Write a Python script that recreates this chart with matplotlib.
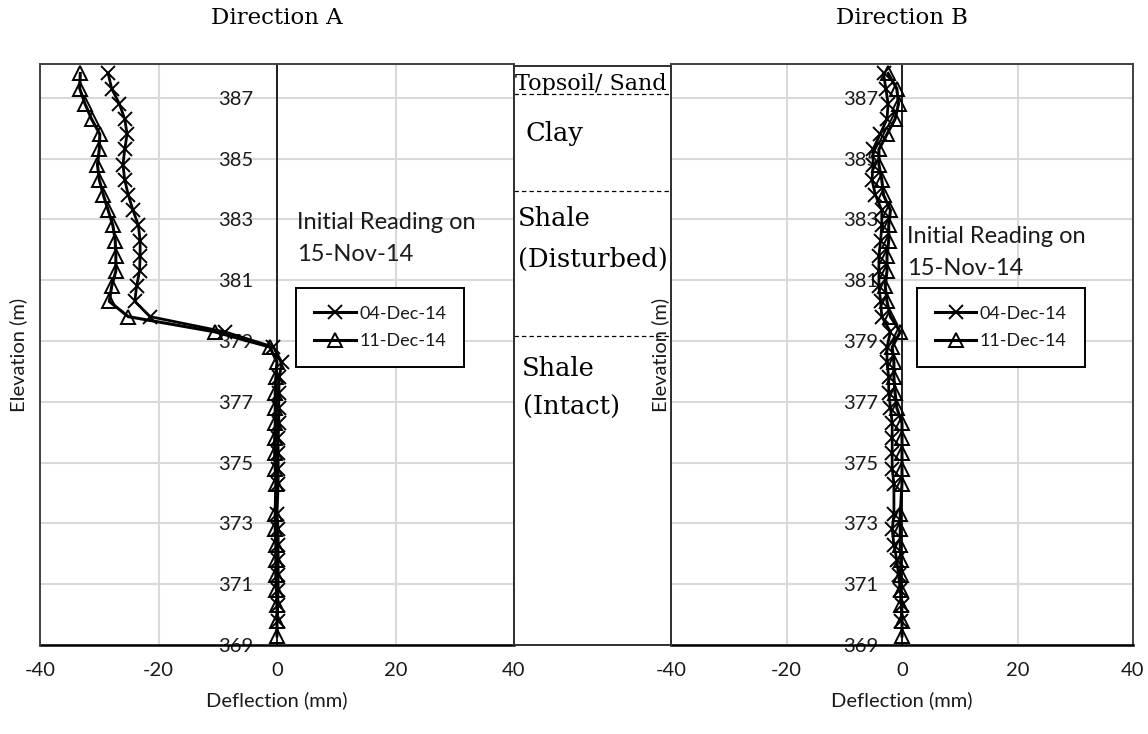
import matplotlib
matplotlib.use("Agg")
import matplotlib.pyplot as plt
from matplotlib.lines import Line2D

plt.rcParams["axes.unicode_minus"] = False

# Inclinometer readings: elevation of each reading (m)
elevation = [387.8, 387.3, 386.8, 386.3, 385.8, 385.3, 384.8, 384.3, 383.8,
             383.3, 382.8, 382.3, 381.8, 381.3, 380.8, 380.3, 379.8, 379.3,
             378.8, 378.3, 377.8, 377.3, 376.8, 376.3, 375.8, 375.3, 374.8,
             374.3, 373.3, 372.8, 372.3, 371.8, 371.3, 370.8, 370.3, 369.8,
             369.3]

# Direction A cumulative deflection (mm)
a_dec04 = [-28.5, -27.9, -26.6, -25.7, -25.3, -25.7, -26.0, -25.7, -25.1,
           -24.3, -23.4, -23.1, -23.1, -23.2, -23.7, -24.0, -21.4, -8.8,
           -0.6, 0.8, 0.4, 0.3, 0.3, 0.3, 0.2, 0.2, 0.2,
           0.2, 0.0, 0.2, 0.2, 0.2, 0.2, 0.2, 0.1, 0.1]
a_dec11 = [-33.2, -33.3, -32.4, -31.3, -29.9, -30.0, -30.3, -30.0, -29.3,
           -28.5, -27.7, -27.3, -27.2, -27.2, -27.9, -28.3, -25.1, -10.5,
           -1.2, 0.0, -0.2, -0.3, -0.3, -0.3, -0.4, -0.4, -0.3,
           -0.2, -0.3, -0.3, -0.2, -0.2, -0.2, -0.1, 0.0, 0.0, 0.0]

# Direction B cumulative deflection (mm)
b_dec04 = [-3.2, -2.8, -2.4, -2.6, -3.8, -5.0, -5.0, -5.2, -4.6,
           -3.5, -3.5, -3.7, -4.0, -4.0, -4.0, -3.7, -3.5, -2.0,
           -2.6, -2.6, -2.3, -2.3, -2.0, -1.7, -1.7, -1.7, -1.7,
           -1.4, -1.4, -1.7, -1.4, -0.9, -0.6, -0.3, 0.0, -0.1]
b_dec11 = [-2.4, -0.9, -0.6, -1.2, -2.6, -4.0, -4.0, -3.5, -3.2,
           -2.0, -2.3, -2.3, -2.6, -2.6, -2.9, -2.6, -2.0, -0.3,
           -1.7, -1.4, -1.4, -1.2, -0.9, 0.0, 0.0, 0.0, 0.0,
           0.0, -0.3, -0.3, -0.3, -0.2, -0.2, -0.2, -0.1, 0.0, 0.0]

series_labels = ["04-Dec-14", "11-Dec-14"]
x_ticks = [-40, -20, 0, 20, 40]
y_ticks = [369, 371, 373, 375, 377, 379, 381, 383, 385, 387]
y_range = (369, 388.11)

# Soil profile
layer_bounds = [387.2, 384.0, 379.2]
layer_texts = [("Topsoil/ Sand", 0.006, 387.52, 16.0),
               ("Clay", 0.076, 385.88, 18.5),
               ("Shale", 0.025, 383.08, 18.5),
               ("(Disturbed)", 0.025, 381.73, 18.5),
               ("Shale", 0.05, 378.11, 18.5),
               ("(Intact)", 0.057, 376.83, 18.5)]

SANS = ["Lato", "DejaVu Sans"]
SERIF = ["DejaVu Serif"]
TXT = "#1a1a1a"

W, H = 1148, 734
fig = plt.figure(figsize=(W / 100, H / 100), dpi=100)


def fx(px):
    return px / W


def fy(py):
    return 1 - py / H


ax_bottom, ax_top = fy(645), fy(64)
ax_a = fig.add_axes([fx(40), ax_bottom, fx(514) - fx(40), ax_top - ax_bottom])
ax_b = fig.add_axes([fx(671), ax_bottom, fx(1133) - fx(671), ax_top - ax_bottom])
ax_s = fig.add_axes([fx(514), ax_bottom, fx(671) - fx(514), fy(66) - ax_bottom])


def draw_panel(ax, dec04, dec11, note_xy, legend_xy):
    ax.set_xlim(-40, 40)
    ax.set_ylim(*y_range)
    ax.set_xticks(x_ticks)
    ax.set_yticks(y_ticks)
    ax.grid(True, color="#d9d9d9", lw=1.5)
    ax.set_axisbelow(True)

    for side in ("top", "right"):
        ax.spines[side].set_color("#404040")
        ax.spines[side].set_linewidth(1.4)
    ax.spines["bottom"].set_color("black")
    ax.spines["bottom"].set_linewidth(1.8)
    ax.spines["left"].set_position(("data", 0))
    ax.spines["left"].set_color("black")
    ax.spines["left"].set_linewidth(1.2)
    ax.axvline(-40, color="#404040", lw=1.4, clip_on=False, zorder=3)

    ax.tick_params(axis="y", length=0, pad=17, labelsize=14.5, labelcolor=TXT)
    ax.tick_params(axis="x", length=0, pad=12, labelsize=14.5, labelcolor=TXT)
    for lab in ax.get_xticklabels() + ax.get_yticklabels():
        lab.set_family(SANS)

    ax.plot(dec04, elevation[:len(dec04)], color="black", lw=2.0,
            marker="x", ms=10, mew=1.4, zorder=4)
    ax.plot(dec11, elevation[:len(dec11)], color="black", lw=2.2,
            marker="^", ms=10.5, mew=1.4, mfc="none", zorder=5)

    ax.set_xlabel("Deflection (mm)", family=SANS, fontsize=14.5, color=TXT,
                  labelpad=9)

    ax.text(note_xy[0], note_xy[1], "Initial Reading on", family=SANS,
            fontsize=17, color=TXT, va="center", ha="left")
    ax.text(note_xy[0], note_xy[1] - 1.05, "15-Nov-14", family=SANS,
            fontsize=17, color=TXT, va="center", ha="left")

    handles = [Line2D([], [], color="black", lw=2.2, marker="x", ms=10, mew=1.4),
               Line2D([], [], color="black", lw=2.2, marker="^", ms=10.5, mew=1.4,
                      mfc="none")]
    leg = ax.legend(handles, series_labels, loc="upper left",
                    bbox_to_anchor=legend_xy, frameon=True, fancybox=False,
                    edgecolor="black", framealpha=1, borderaxespad=0,
                    prop={"family": SANS, "size": 13}, handlelength=2.3,
                    handletextpad=0.2, labelspacing=0.62, borderpad=1.0)
    leg.get_frame().set_linewidth(1.4)
    for t in leg.get_texts():
        t.set_color(TXT)


# Note positions: (deflection, elevation); legend anchors in axes fraction
draw_panel(ax_a, a_dec04, a_dec11, (3.3, 382.90), (0.54, 0.615))
draw_panel(ax_b, b_dec04, b_dec11, (0.9, 382.43), (0.532, 0.615))

# Soil profile column between the two panels
ax_s.set_xlim(0, 1)
ax_s.set_ylim(*y_range)
ax_s.set_xticks([])
ax_s.set_yticks([])
for side in ax_s.spines.values():
    side.set_color("#303030")
    side.set_linewidth(1.4)
for b in layer_bounds:
    ax_s.axhline(b, xmin=0, xmax=0.985, color="black", lw=0.9,
                 ls=(0, (3.5, 2.5)))
for txt, x, y, size in layer_texts:
    ax_s.text(x, y, txt, family=SERIF, fontsize=size, color="black",
              ha="left", va="center")

# Panel titles and elevation labels
fig.text(fx(277), fy(18), "Direction A", family=SERIF, fontsize=16.5,
         ha="center", va="center", color="black")
fig.text(fx(902), fy(18), "Direction B", family=SERIF, fontsize=16.5,
         ha="center", va="center", color="black")
fig.text(fx(18), fy(355), "Elevation (m)", family=SANS, fontsize=14.5,
         rotation=90, ha="center", va="center", color=TXT)
fig.text(fx(660), fy(355), "Elevation (m)", family=SANS, fontsize=14.5,
         rotation=90, ha="center", va="center", color=TXT)

fig.savefig("out.png", dpi=100, facecolor="white")
